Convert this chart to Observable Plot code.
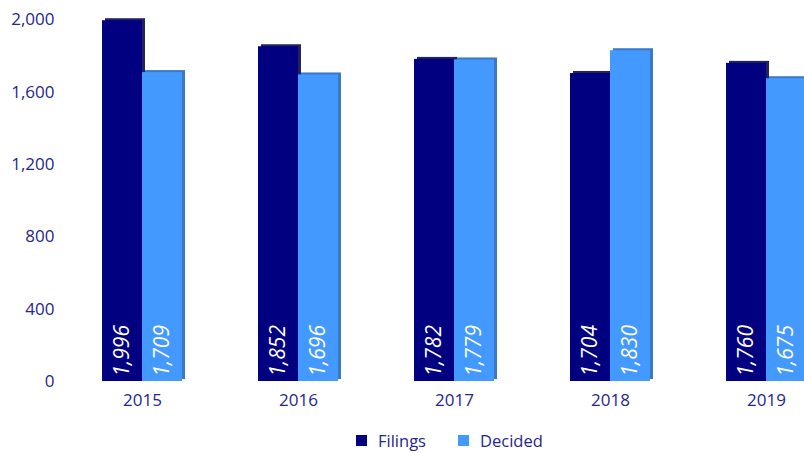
<!DOCTYPE html>
<html>
<head>
<meta charset="utf-8">
<script src="https://cdn.jsdelivr.net/npm/d3@7"></script>
<script src="https://cdn.jsdelivr.net/npm/@observablehq/plot@0.6"></script>
<style>
  html, body { margin: 0; padding: 0; background: white; overflow: hidden; width: 804px; height: 453px; }
  #chart svg { display: block; overflow: hidden; }
  #legend { position: relative; height: 38px; font-family: "Open Sans", sans-serif; font-size: 16.5px; color: #26268c; }
  .item { position: absolute; top: 14px; display: flex; align-items: center; height: 22px; }
  .sw { width: 11px; height: 11px; margin-right: 11px; }
</style>
</head>
<body>
<div id="chart"></div>
<div id="legend"></div>
<script>
const years = ["2015", "2016", "2017", "2018", "2019"];
const filings = [1996, 1852, 1782, 1704, 1760];
const decided = [1709, 1696, 1779, 1830, 1675];
const series = ["Filings", "Decided"];
const colors = ["#000080", "#4499ff"];
const sideColors = ["#22225e", "#3a78c8"];
const yTicks = [0, 400, 800, 1200, 1600, 2000];

const filingsData = years.map((yr, i) => ({year: yr, series: "Filings", value: filings[i]}));
const decidedData = years.map((yr, i) => ({year: yr, series: "Decided", value: decided[i]}));

const fmt = d3.format(",");
const half = 40;

function seriesMarks(rows, idx) {
  const insets = idx === 0 ? {insetRight: half} : {insetLeft: half};
  return [
    Plot.barY(rows, {x: "year", y: "value", fill: sideColors[idx], dx: 3, dy: -2, ...insets})
  ];
}
function mainMarks(rows, idx) {
  const insets = idx === 0 ? {insetRight: half} : {insetLeft: half};
  return [
    Plot.barY(rows, {x: "year", y: "value", fill: colors[idx], ...insets}),
    Plot.text(rows, {
      x: "year", y: 0,
      text: d => fmt(d.value),
      rotate: -90, textAnchor: "start", lineAnchor: "middle",
      dx: idx === 0 ? -half / 2 : half / 2, dy: -5,
      fill: "white", fontSize: 21, fontStyle: "italic"
    })
  ];
}

const chart = Plot.plot({
  width: 804,
  height: 415,
  marginTop: 19.5,
  marginBottom: 34,
  marginLeft: 60,
  marginRight: 0,
  style: {fontFamily: "Open Sans, sans-serif", fontSize: "17px", color: "#26268c", background: "white"},
  x: {domain: years, range: [24.5, 883.5], padding: 0.4888, label: null, tickSize: 0, tickPadding: 12},
  y: {domain: [0, 2000], ticks: yTicks, tickFormat: fmt, label: null, tickSize: 0, tickPadding: 6},
  marks: [
    ...seriesMarks(filingsData, 0),
    ...seriesMarks(decidedData, 1),
    ...mainMarks(filingsData, 0),
    ...mainMarks(decidedData, 1)
  ]
});
document.getElementById("chart").appendChild(chart);

const legend = document.getElementById("legend");
const lefts = [356, 458];
series.forEach((s, i) => {
  const item = document.createElement("div");
  item.className = "item";
  item.style.left = lefts[i] + "px";
  const sw = document.createElement("div");
  sw.className = "sw";
  sw.style.background = colors[i];
  const t = document.createElement("span");
  t.textContent = s;
  item.appendChild(sw);
  item.appendChild(t);
  legend.appendChild(item);
});
</script>
</body>
</html>
